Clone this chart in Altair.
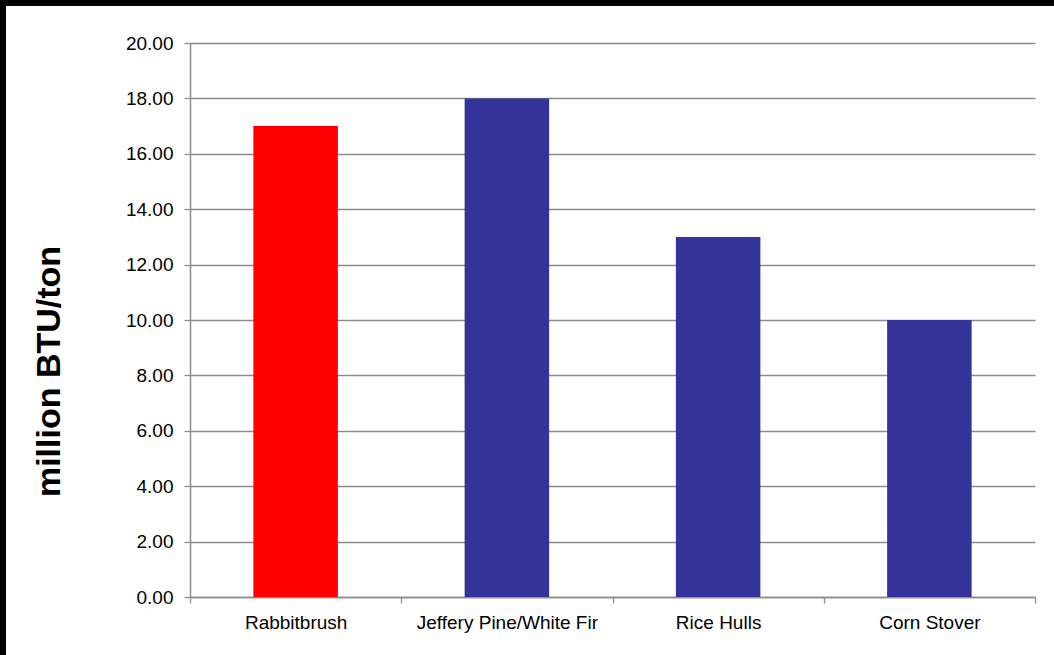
import altair as alt
import pandas as pd

categories = ["Rabbitbrush", "Jeffery Pine/White Fir", "Rice Hulls", "Corn Stover"]
values = [17.0, 18.0, 13.0, 10.0]
bar_colors = ["#FF0000", "#333399", "#333399", "#333399"]
y_ticks = [0, 2, 4, 6, 8, 10, 12, 14, 16, 18, 20]

df = pd.DataFrame({"category": categories, "value": values})

W, H = 845, 554
PAD = {"left": 190, "top": 43, "right": 19, "bottom": 58}
FONT = "Liberation Sans"
one = pd.DataFrame({"a": [0]})

# black frame strips at the left and top edges of the page
left_strip = alt.Chart(one).mark_rect(color="black").encode(
    x=alt.value(-PAD["left"] - 2),
    x2=alt.value(-PAD["left"] + 6),
    y=alt.value(-PAD["top"] - 2),
    y2=alt.value(H + PAD["bottom"] + 2),
)
top_strip = alt.Chart(one).mark_rect(color="black").encode(
    x=alt.value(-PAD["left"] - 2),
    x2=alt.value(W + PAD["right"] + 2),
    y=alt.value(-PAD["top"] - 2),
    y2=alt.value(-PAD["top"] + 6),
)

bars = alt.Chart(df).mark_bar(width=alt.RelativeBandSize(0.4)).encode(
    x=alt.X(
        "category:N",
        sort=categories,
        scale=alt.Scale(paddingInner=0, paddingOuter=0),
        axis=alt.Axis(
            title=None,
            labelAngle=0,
            labelFont=FONT,
            labelFontSize=19,
            labelColor="black",
            labelPadding=10,
            labelLimit=400,
            tickBand="extent",
            tickSize=6,
            tickColor="#8c8c8c",
            tickWidth=1.3,
            domainColor="#8c8c8c",
            domainWidth=1.5,
            grid=False,
        ),
    ),
    y=alt.Y(
        "value:Q",
        scale=alt.Scale(domain=[0, 20], nice=False),
        axis=alt.Axis(
            title="million BTU/ton",
            titleFont=FONT,
            titleFontSize=34,
            titleFontWeight="bold",
            titleColor="black",
            titleAngle=-90,
            titleX=-141,
            titleY=328,
            titleAlign="center",
            titleBaseline="middle",
            values=y_ticks,
            format=".2f",
            labelFont=FONT,
            labelFontSize=19,
            labelColor="black",
            labelPadding=11,
            tickSize=6,
            tickColor="#8c8c8c",
            tickWidth=1.3,
            domainColor="#8c8c8c",
            domainWidth=1.5,
            grid=True,
            gridColor="#8c8c8c",
            gridWidth=1.3,
        ),
    ),
    color=alt.Color(
        "category:N",
        scale=alt.Scale(domain=categories, range=bar_colors),
        legend=None,
    ),
)

chart = alt.layer(left_strip, top_strip, bars).properties(
    width=W,
    height=H,
    padding=PAD,
    autosize=alt.AutoSizeParams(type="none"),
    background="white",
).configure_view(stroke=None)

chart.save("out.html", embed_options={"renderer": "svg", "actions": False})
